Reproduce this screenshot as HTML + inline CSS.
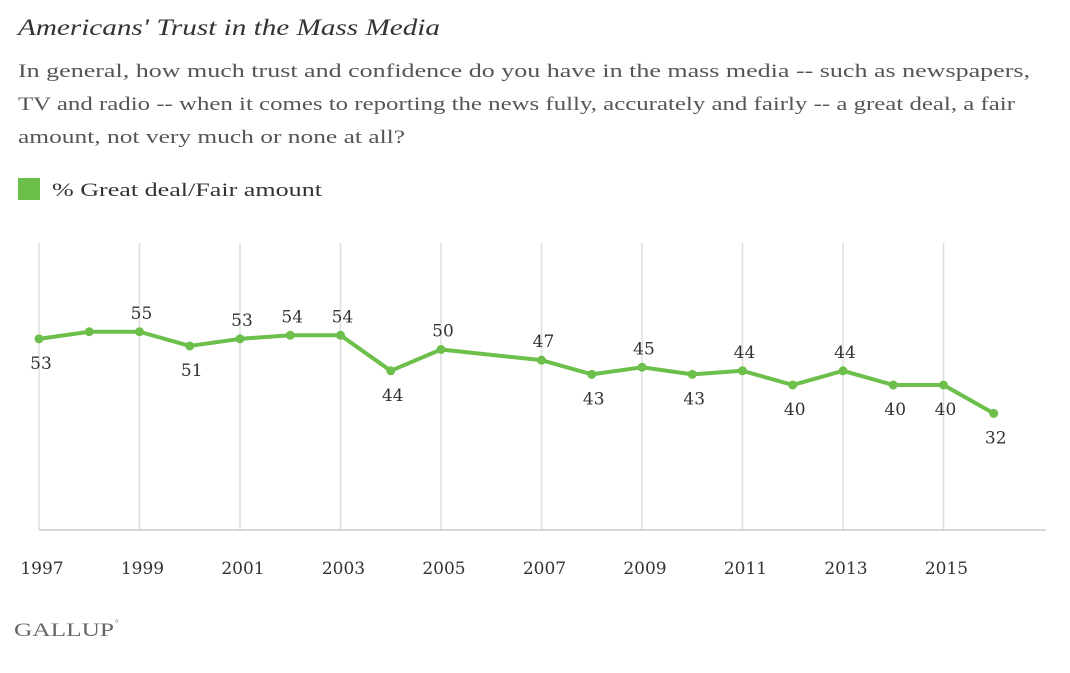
<!DOCTYPE html>
<html><head><meta charset="utf-8"><style>
body{margin:0;background:#fff;width:1070px;height:668px;overflow:hidden;font-family:"Liberation Serif",serif;}
</style></head><body>
<svg width="1070" height="668" xmlns="http://www.w3.org/2000/svg">
<text x="18" y="35" font-size="23" font-style="italic" fill="#333" textLength="422" lengthAdjust="spacingAndGlyphs">Americans' Trust in the Mass Media</text>
<g font-size="19" fill="#555">
<text x="18" y="77" textLength="1012" lengthAdjust="spacingAndGlyphs">In general, how much trust and confidence do you have in the mass media -- such as newspapers,</text>
<text x="18" y="110" textLength="997" lengthAdjust="spacingAndGlyphs">TV and radio -- when it comes to reporting the news fully, accurately and fairly -- a great deal, a fair</text>
<text x="18" y="143" textLength="387" lengthAdjust="spacingAndGlyphs">amount, not very much or none at all?</text>
</g>
<rect x="18" y="178" width="22" height="22" fill="#6cbf4a"/>
<text x="52" y="196" font-size="19" fill="#333" textLength="270" lengthAdjust="spacingAndGlyphs">% Great deal/Fair amount</text>
<g id="grid"></g>
<line x1="39" y1="530" x2="1046" y2="530" stroke="#ccc" stroke-width="1.5"/>
<g id="ticks" font-size="17" fill="#333" font-family="DejaVu Serif, serif"></g>
<g id="series"></g>
<text x="14" y="636" font-size="19" fill="#666" textLength="100" lengthAdjust="spacingAndGlyphs">GALLUP</text>
<text x="115" y="626" font-size="9" fill="#666">°</text>
</svg>
<script>
const years=[1997,1998,1999,2000,2001,2002,2003,2004,2005,2007,2008,2009,2010,2011,2012,2013,2014,2015,2016];
const values=[53,55,55,51,53,54,54,44,50,47,43,45,43,44,40,44,40,40,32];
const showLabel=[1,0,1,1,1,1,1,1,1,1,1,1,1,1,1,1,1,1,1];
const labelAbove=[0,0,1,0,1,1,1,0,1,1,0,1,0,1,0,1,0,0,0];
const tickYears=[1997,1999,2001,2003,2005,2007,2009,2011,2013,2015];
const NS="http://www.w3.org/2000/svg";
const x=y=>39+(y-1997)*50.25;
const yS=v=>527-v*3.55;
const grid=document.getElementById('grid'),ticks=document.getElementById('ticks'),ser=document.getElementById('series');
tickYears.forEach(t=>{
 const l=document.createElementNS(NS,'line');
 l.setAttribute('x1',x(t));l.setAttribute('x2',x(t));l.setAttribute('y1',243);l.setAttribute('y2',530);
 l.setAttribute('stroke','#ddd');l.setAttribute('stroke-width','1.5');
 
 
 grid.appendChild(l);
 const tx=document.createElementNS(NS,'text');
 tx.setAttribute('x',x(t)+3);tx.setAttribute('y',574);tx.setAttribute('text-anchor','middle');
 tx.textContent=t;
 
 
 ticks.appendChild(tx);
});
const p=document.createElementNS(NS,'polyline');
p.setAttribute('points',years.map((yr,i)=>x(yr)+','+yS(values[i])).join(' '));
p.setAttribute('fill','none');p.setAttribute('stroke','#6cbf4a');p.setAttribute('stroke-width','4');p.setAttribute('stroke-linejoin','round');


ser.appendChild(p);
years.forEach((yr,i)=>{
 const c=document.createElementNS(NS,'circle');
 c.setAttribute('cx',x(yr));c.setAttribute('cy',yS(values[i]));c.setAttribute('r',4.5);c.setAttribute('fill','#6cbf4a');
 
 
 ser.appendChild(c);
 if(showLabel[i]){
  const t=document.createElementNS(NS,'text');
  t.setAttribute('x',x(yr)+2);t.setAttribute('y',yS(values[i])+(labelAbove[i]?-13:30));
  t.setAttribute('text-anchor','middle');t.setAttribute('font-size','17');t.setAttribute('fill','#333');
  t.setAttribute('font-family','DejaVu Serif, serif');
  t.textContent=values[i];
  
  
  ser.appendChild(t);
 }
});
</script>
</body></html>
